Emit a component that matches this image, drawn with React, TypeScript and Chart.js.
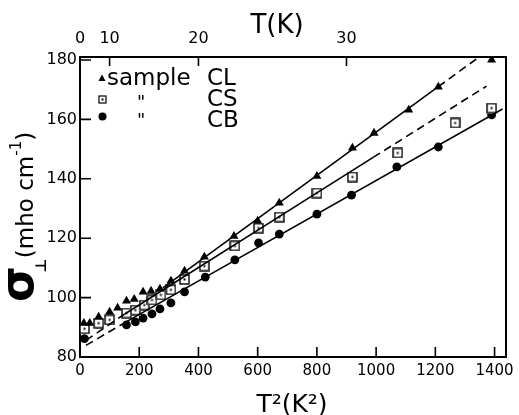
import React, { useEffect, useRef } from "react";
import { Chart, registerables } from "chart.js";
Chart.register(...registerables);

// ---- data ----
const clT2 = [13, 33, 63, 100, 127, 157, 183, 213, 240, 270, 307, 353, 420, 520, 600, 673, 800, 920, 993, 1110, 1210, 1390];
const clSigma = [91.4, 91.4, 93.5, 95.2, 96.5, 98.9, 99.5, 101.9, 102.2, 102.9, 105.6, 109.0, 113.7, 120.7, 125.8, 131.9, 140.9, 150.4, 155.4, 163.2, 170.9, 180.0];

const csT2 = [15, 63, 100, 157, 187, 217, 243, 273, 307, 353, 420, 523, 603, 673, 800, 920, 1073, 1267, 1390];
const csSigma = [89.5, 91.4, 92.5, 94.8, 95.8, 97.5, 99.2, 100.9, 102.6, 106.1, 110.6, 117.4, 123.4, 127.1, 135.2, 140.6, 148.7, 158.8, 163.8];

const cbT2 = [15, 157, 187, 213, 243, 270, 307, 353, 423, 523, 603, 673, 800, 917, 1070, 1210, 1390];
const cbSigma = [86.2, 90.8, 91.8, 93.1, 94.5, 96.2, 98.2, 101.9, 106.9, 112.7, 118.4, 121.4, 128.1, 134.5, 144.0, 150.7, 161.5];

// fitted lines (end points)
const clSolidT2 = [280, 1210];
const clSolidSigma = [103.3, 171.0];
const clDashT2 = [1210, 1345];
const clDashSigma = [171.0, 180.8];

const csDashLowT2 = [20, 150];
const csDashLowSigma = [85.6, 94.4];
const csSolidT2 = [150, 990];
const csSolidSigma = [94.4, 147.2];
const csDashHighT2 = [990, 1373];
const csDashHighSigma = [147.2, 171.2];

const cbDashT2 = [20, 150];
const cbDashSigma = [83.9, 91.5];
const cbSolidT2 = [150, 1427];
const cbSolidSigma = [91.5, 163.5];

// ticks
const xTicks = [0, 200, 400, 600, 800, 1000, 1200, 1400];
const tTicks = [0, 10, 20, 30];
const yTicks = [80, 100, 120, 140, 160, 180];
const xMin = 0;
const xMax = 1437;
const yMin = 80;
const yMax = 181;

const FONT = "'DejaVu Sans', sans-serif";

function pts(xs: number[], ys: number[]) {
  return xs.map((x, i) => ({ x, y: ys[i] }));
}

function makeSquare(): HTMLCanvasElement {
  const c = document.createElement("canvas");
  c.width = 11;
  c.height = 11;
  const g = c.getContext("2d")!;
  g.fillStyle = "#fff";
  g.fillRect(0, 0, 11, 11);
  g.strokeStyle = "#000";
  g.lineWidth = 1.4;
  g.strokeRect(1, 1, 9, 9);
  g.fillStyle = "#000";
  g.fillRect(4.5, 4.5, 2, 2);
  return c;
}

const decorPlugin = {
  id: "decor",
  afterDraw(chart: any) {
    const ctx: CanvasRenderingContext2D = chart.ctx;
    const x = chart.scales.x;
    const xt = chart.scales.xTop;
    const y = chart.scales.y;
    const ca = chart.chartArea;
    ctx.save();
    ctx.strokeStyle = "#000";
    ctx.lineWidth = 1.6;
    // inward ticks
    ctx.beginPath();
    xTicks.forEach((v) => {
      if (v === xMin) return;
      const px = x.getPixelForValue(v);
      ctx.moveTo(px, ca.bottom);
      ctx.lineTo(px, ca.bottom - 10);
    });
    tTicks.forEach((t) => {
      if (t === 0) return;
      const px = xt.getPixelForValue(t * t);
      ctx.moveTo(px, ca.top);
      ctx.lineTo(px, ca.top + 9);
    });
    yTicks.forEach((v) => {
      if (v === yMin) return;
      const py = y.getPixelForValue(v);
      ctx.moveTo(ca.left, py);
      ctx.lineTo(ca.left + 11, py);
    });
    ctx.stroke();

    ctx.fillStyle = "#000";
    // top title
    ctx.font = `26px ${FONT}`;
    ctx.textAlign = "center";
    ctx.textBaseline = "alphabetic";
    ctx.fillText("T(K)", 277, 33);
    // bottom title
    ctx.font = `25px ${FONT}`;
    ctx.fillText("T\u00B2(K\u00B2)", 292, 412);

    // y title rotated
    ctx.save();
    ctx.translate(33, 302);
    ctx.rotate(-Math.PI / 2);
    ctx.textAlign = "left";
    ctx.font = `bold 46px ${FONT}`;
    ctx.fillText("\u03C3", 0, 0);
    let adv = ctx.measureText("\u03C3").width;
    ctx.font = `bold 15px ${FONT}`;
    ctx.fillText("\u22A5", adv - 6, 13);
    adv += 8;
    ctx.font = `23px ${FONT}`;
    const main = "(mho cm";
    ctx.fillText(main, adv, 0);
    adv += ctx.measureText(main).width;
    ctx.font = `15px ${FONT}`;
    ctx.fillText("-1", adv, -12);
    adv += ctx.measureText("-1").width;
    ctx.font = `23px ${FONT}`;
    ctx.fillText(")", adv, 0);
    ctx.restore();

    // legend
    ctx.fillStyle = "#000";
    // triangle
    ctx.beginPath();
    ctx.moveTo(102, 74.5);
    ctx.lineTo(105.5, 81);
    ctx.lineTo(98.5, 81);
    ctx.closePath();
    ctx.fill();
    // square with dot
    ctx.lineWidth = 1.2;
    ctx.strokeRect(99, 96, 7, 7);
    ctx.fillRect(101.5, 98.5, 2, 2);
    // circle
    ctx.beginPath();
    ctx.arc(102.5, 116.5, 4, 0, Math.PI * 2);
    ctx.fill();

    ctx.textAlign = "left";
    ctx.textBaseline = "alphabetic";
    ctx.font = `23px ${FONT}`;
    ctx.fillText("sample", 107, 85);
    ctx.fillText("CL", 207, 85);
    ctx.fillText("CS", 207, 106);
    ctx.fillText("CB", 207, 127);
    ctx.font = `18px ${FONT}`;
    ctx.textBaseline = "top";
    ctx.fillText("\"", 137, 94);
    ctx.fillText("\"", 137, 112);
    ctx.restore();
  },
};

export default function App() {
  const ref = useRef<HTMLCanvasElement | null>(null);
  useEffect(() => {
    if (!ref.current) return;
    const square = makeSquare();
    const lineBase = {
      showLine: true,
      pointRadius: 0,
      borderColor: "#000",
      borderWidth: 1.6,
      backgroundColor: "#000",
      fill: false,
    };
    const chart = new Chart(ref.current, {
      type: "scatter",
      data: {
        datasets: [
          { ...lineBase, data: pts(clSolidT2, clSolidSigma) },
          { ...lineBase, data: pts(clDashT2, clDashSigma), borderDash: [8, 5] },
          { ...lineBase, data: pts(csDashLowT2, csDashLowSigma), borderDash: [8, 5] },
          { ...lineBase, data: pts(csSolidT2, csSolidSigma) },
          { ...lineBase, data: pts(csDashHighT2, csDashHighSigma), borderDash: [8, 5] },
          { ...lineBase, data: pts(cbDashT2, cbDashSigma), borderDash: [8, 5] },
          { ...lineBase, data: pts(cbSolidT2, cbSolidSigma) },
          {
            label: "CL",
            data: pts(clT2, clSigma),
            pointStyle: "triangle",
            pointRadius: 5.2,
            backgroundColor: "#000",
            borderColor: "#000",
            borderWidth: 0,
          },
          {
            label: "CS",
            data: pts(csT2, csSigma),
            pointStyle: square as any,
            pointRadius: 5.5,
            backgroundColor: "#000",
            borderColor: "#000",
          },
          {
            label: "CB",
            data: pts(cbT2, cbSigma),
            pointStyle: "circle",
            pointRadius: 4.4,
            backgroundColor: "#000",
            borderColor: "#000",
            borderWidth: 0,
          },
        ] as any,
      },
      options: {
        animation: false,
        responsive: false,
        maintainAspectRatio: false,
        layout: { padding: 0 },
        plugins: { legend: { display: false }, tooltip: { enabled: false } },
        scales: {
          x: {
            type: "linear",
            position: "bottom",
            min: xMin,
            max: xMax,
            afterBuildTicks: (s: any) => {
              s.ticks = xTicks.map((v) => ({ value: v }));
            },
            afterFit: (s: any) => {
              s.height = 58;
            },
            grid: { display: false, drawTicks: false },
            border: { display: true, color: "#000", width: 2 },
            ticks: {
              color: "#000",
              font: { family: FONT, size: 15 },
              padding: 5,
              maxRotation: 0,
              autoSkip: false,
              callback: (v: any) => String(v),
            },
          },
          xTop: {
            type: "linear",
            position: "top",
            min: xMin,
            max: xMax,
            afterBuildTicks: (s: any) => {
              s.ticks = tTicks.map((t) => ({ value: t * t }));
            },
            afterFit: (s: any) => {
              s.height = 57;
            },
            grid: { display: false, drawTicks: false },
            border: { display: true, color: "#000", width: 2 },
            ticks: {
              color: "#000",
              font: { family: FONT, size: 16 },
              padding: 9,
              maxRotation: 0,
              autoSkip: false,
              callback: (v: any) => String(Math.round(Math.sqrt(Number(v)))),
            },
          },
          y: {
            type: "linear",
            position: "left",
            min: yMin,
            max: yMax,
            afterBuildTicks: (s: any) => {
              s.ticks = yTicks.map((v) => ({ value: v }));
            },
            afterFit: (s: any) => {
              s.width = 80;
            },
            grid: { display: false, drawTicks: false },
            border: { display: true, color: "#000", width: 2 },
            ticks: {
              color: "#000",
              font: { family: FONT, size: 16 },
              padding: 3,
              autoSkip: false,
              callback: (v: any) => String(v),
            },
          },
          yRight: {
            type: "linear",
            position: "right",
            min: yMin,
            max: yMax,
            afterFit: (s: any) => {
              s.width = 8;
            },
            grid: { display: false, drawTicks: false },
            border: { display: true, color: "#000", width: 2 },
            ticks: { display: false },
          },
        },
      } as any,
      plugins: [decorPlugin],
    });
    return () => chart.destroy();
  }, []);
  return (
    <div style={{ position: "absolute", left: 0, top: 0, width: 519, height: 415, background: "#fff" }}>
      <canvas ref={ref} width={519} height={415} style={{ display: "block" }} />
    </div>
  );
}
